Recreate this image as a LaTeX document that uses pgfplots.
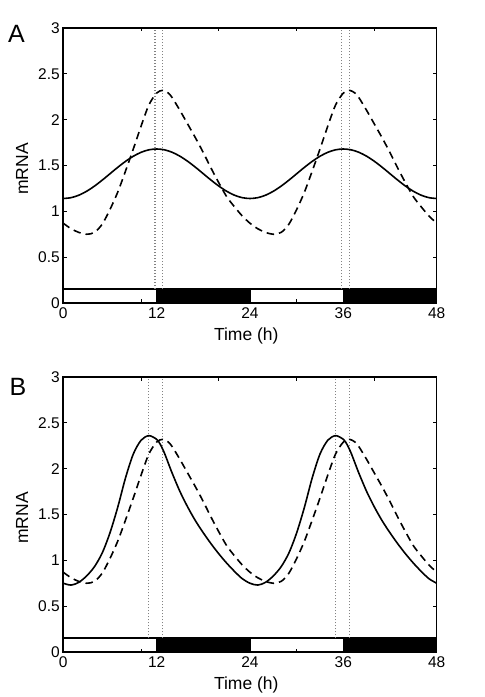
\documentclass[border=0pt]{standalone}
\usepackage{fontspec}
\setmainfont{Liberation Sans}
\usepackage{pgfplots}
\pgfplotsset{compat=1.18}

\definecolor{dotgray}{RGB}{130,130,130}

\pgfplotsset{
  panel/.style={
    scale only axis, width=373.4pt, height=275pt,
    xmin=0, xmax=48, ymin=0, ymax=3,
    axis on top=true,
    axis line style={line width=1.6pt},
    xtick={10,20,30,40}, xticklabels={},
    extra x ticks={0,12,24,36,48},
    extra x tick labels={0,12,24,36,48},
    extra x tick style={major tick length=0pt},
    ytick={0,0.5,1,1.5,2,2.5,3},
    yticklabels={0,0.5,1,1.5,2,2.5,3},
    major tick length=3.5pt,
    tick style={black, line width=0.9pt},
    tick label style={font=\fontsize{15.5}{17}\selectfont},
    xticklabel style={yshift=-1pt},
    /pgf/number format/assume math mode=true,
    label style={font=\fontsize{17.5}{20}\selectfont},
    xlabel={Time (h)},
    xlabel style={at={(axis description cs:0.49,-0.12)}, anchor=center},
    ylabel={mRNA},
    ylabel style={at={(axis description cs:-0.11,0.487)}, anchor=center},
  },
  solidc/.style={black, line width=1.6pt, smooth},
  dashc/.style={black, line width=1.6pt, smooth, dash pattern=on 7.5pt off 5pt},
  dotc/.style={dotgray, line width=1.2pt, dash pattern=on 1.2pt off 1.8pt},
  barw/.style={fill=white, draw=black, line width=1.6pt},
  barb/.style={fill=black, draw=black, line width=1.6pt},
}

\begin{document}
\begin{tikzpicture}
\useasboundingbox (0pt,0pt) rectangle (485pt,697pt);

% ---------------- Panel A ----------------
\begin{axis}[panel, at={(63.3pt,394pt)}, anchor=south west]
\addplot[barw] coordinates {(0,0) (48,0) (48,0.15) (0,0.15)} -- cycle;
\addplot[barb] coordinates {(12,0) (24,0) (24,0.15) (12,0.15)} -- cycle;
\addplot[barb] coordinates {(36,0) (48,0) (48,0.15) (36,0.15)} -- cycle;
\addplot[dotc] coordinates {(11.8,0.15) (11.8,3)};
\addplot[dotc] coordinates {(12.8,0.15) (12.8,3)};
\addplot[dotc] coordinates {(35.8,0.15) (35.8,3)};
\addplot[dotc] coordinates {(36.8,0.15) (36.8,3)};
\addplot[solidc] coordinates {
(0,1.140) (1,1.149) (2,1.176) (3,1.219) (4,1.275) (5,1.340) (6,1.410)
(7,1.480) (8,1.545) (9,1.601) (10,1.644) (11,1.671) (12,1.680)
(13,1.671) (14,1.644) (15,1.601) (16,1.545) (17,1.480) (18,1.410)
(19,1.340) (20,1.275) (21,1.219) (22,1.176) (23,1.149) (24,1.140)
(25,1.149) (26,1.176) (27,1.219) (28,1.275) (29,1.340) (30,1.410)
(31,1.480) (32,1.545) (33,1.601) (34,1.644) (35,1.671) (36,1.680)
(37,1.671) (38,1.644) (39,1.601) (40,1.545) (41,1.480) (42,1.410)
(43,1.340) (44,1.275) (45,1.219) (46,1.176) (47,1.149) (48,1.140)};
\addplot[dashc] coordinates {
(0,0.87) (1,0.81) (2,0.77) (3,0.75) (4,0.77) (5,0.86) (6,1.02) (7,1.21)
(8,1.44) (9,1.68) (10,1.93) (11,2.16) (12,2.29) (12.8,2.32) (13.5,2.29)
(14,2.24) (15,2.10) (16,1.95) (17,1.80) (18,1.64) (19,1.47) (20,1.31)
(21,1.16) (22,1.05) (23,0.95)
(24,0.87) (25,0.81) (26,0.77) (27,0.75) (28,0.77) (29,0.86) (30,1.02) (31,1.21)
(32,1.44) (33,1.68) (34,1.93) (35,2.16) (36,2.29) (36.8,2.32) (37.5,2.29)
(38,2.24) (39,2.10) (40,1.95) (41,1.80) (42,1.64) (43,1.47) (44,1.31)
(45,1.16) (46,1.05) (47,0.95) (48,0.87)};
\end{axis}

% ---------------- Panel B ----------------
\begin{axis}[panel, at={(63.3pt,45pt)}, anchor=south west]
\addplot[barw] coordinates {(0,0) (48,0) (48,0.15) (0,0.15)} -- cycle;
\addplot[barb] coordinates {(12,0) (24,0) (24,0.15) (12,0.15)} -- cycle;
\addplot[barb] coordinates {(36,0) (48,0) (48,0.15) (36,0.15)} -- cycle;
\addplot[dotc] coordinates {(11.0,0.15) (11.0,3)};
\addplot[dotc] coordinates {(12.8,0.15) (12.8,3)};
\addplot[dotc] coordinates {(35.0,0.15) (35.0,3)};
\addplot[dotc] coordinates {(36.8,0.15) (36.8,3)};
\addplot[solidc] coordinates {
(0,0.75) (1,0.73) (2,0.76) (3,0.83) (4,0.93) (5,1.08) (6,1.30) (7,1.58)
(8,1.90) (9,2.16) (10,2.31) (11,2.36) (12,2.32) (12.5,2.26) (13,2.17)
(13.5,2.06) (14,1.95) (15,1.75) (16,1.58) (17,1.43) (18,1.30) (19,1.18)
(20,1.07) (21,0.97) (22,0.88) (23,0.80)
(24,0.75) (25,0.73) (26,0.76) (27,0.83) (28,0.93) (29,1.08) (30,1.30) (31,1.58)
(32,1.90) (33,2.16) (34,2.31) (35,2.36) (36,2.32) (36.5,2.26) (37,2.17)
(37.5,2.06) (38,1.95) (39,1.75) (40,1.58) (41,1.43) (42,1.30) (43,1.18)
(44,1.07) (45,0.97) (46,0.88) (47,0.80) (48,0.75)};
\addplot[dashc] coordinates {
(0,0.87) (1,0.81) (2,0.77) (3,0.75) (4,0.77) (5,0.86) (6,1.02) (7,1.21)
(8,1.44) (9,1.68) (10,1.93) (11,2.16) (12,2.29) (12.8,2.32) (13.5,2.29)
(14,2.24) (15,2.10) (16,1.95) (17,1.80) (18,1.64) (19,1.47) (20,1.31)
(21,1.16) (22,1.05) (23,0.95)
(24,0.87) (25,0.81) (26,0.77) (27,0.75) (28,0.77) (29,0.86) (30,1.02) (31,1.21)
(32,1.44) (33,1.68) (34,1.93) (35,2.16) (36,2.29) (36.8,2.32) (37.5,2.29)
(38,2.24) (39,2.10) (40,1.95) (41,1.80) (42,1.64) (43,1.47) (44,1.31)
(45,1.16) (46,1.05) (47,0.95) (48,0.87)};
\end{axis}

\node[font=\fontsize{25}{28}\selectfont] at (16.5pt,663pt) {A};
\node[font=\fontsize{25}{28}\selectfont] at (18pt,310.5pt) {B};
\end{tikzpicture}
\end{document}
